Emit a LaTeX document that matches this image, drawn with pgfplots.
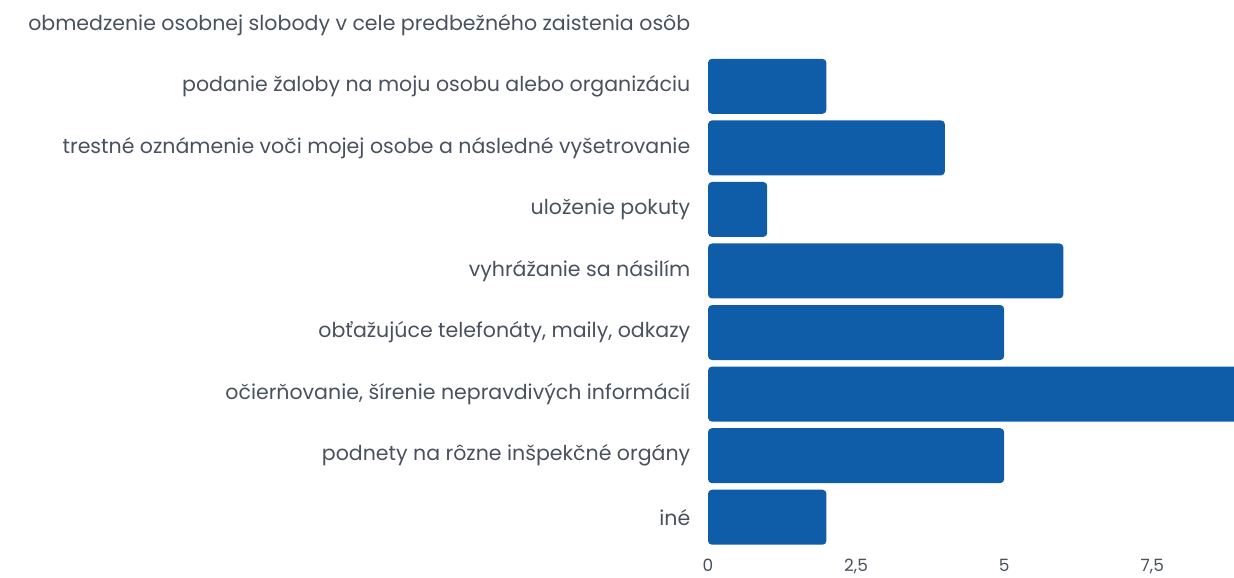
\documentclass[border=0pt]{standalone}
\usepackage{fontspec}
\setmainfont{Poppins}
\usepackage{pgfplots}
\pgfplotsset{compat=1.18}
\definecolor{barblue}{HTML}{0F5CA8}
\definecolor{txt}{HTML}{4A515E}
\begin{document}
\begin{tikzpicture}[x=1bp,y=1bp]
\useasboundingbox (0,0) rectangle (1234,578);
\begin{axis}[
  at={(708bp,30bp)}, anchor=south west,
  scale only axis,
  width=526bp, height=554bp,
  xmin=0, xmax=8.88,
  ymin=-0.5, ymax=8.5,
  y dir=reverse,
  xbar,
  bar width=55bp,
  xtick={0,2.5,5,7.5},
  xticklabels={0,{2,5},5,{7,5}},
  ytick={0,...,8},
  yticklabels={
    obmedzenie osobnej slobody v cele predbežného zaistenia osôb,
    podanie žaloby na moju osobu alebo organizáciu,
    trestné oznámenie voči mojej osobe a následné vyšetrovanie,
    uloženie pokuty,
    vyhrážanie sa násilím,
    {obťažujúce telefonáty, maily, odkazy},
    {očierňovanie, šírenie nepravdivých informácií},
    podnety na rôzne inšpekčné orgány,
    iné},
  tick style={draw=none},
  xticklabel style={font=\fontsize{17}{20}\selectfont, text=txt, yshift=-8bp},
  yticklabel style={font=\fontsize{20.6}{24}\selectfont, text=txt, xshift=-10bp},
  xticklabel pos=lower,
  axis line style={draw=none},
  clip=true,
]
\addplot[fill=barblue, draw=none, rounded corners=4bp] coordinates {
  (2,1) (4,2) (1,3) (6,4) (5,5) (9,6) (5,7) (2,8)
};
\end{axis}
\end{tikzpicture}
\end{document}
